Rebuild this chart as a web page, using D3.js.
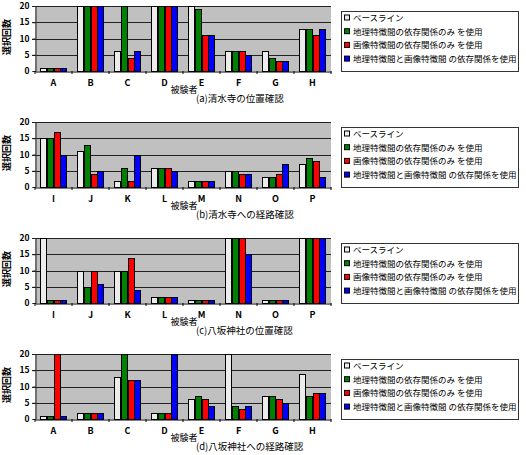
<!DOCTYPE html>
<html><head><meta charset="utf-8">
<script src="https://cdn.jsdelivr.net/npm/d3@7/dist/d3.min.js"></script>
<style>
body{margin:0;background:#fff;}
text{font-family:"Noto Sans CJK JP","DejaVu Sans",sans-serif;}
</style></head>
<body><svg id="c" width="526" height="455"></svg>
<script>
const seriesNames = ["ベースライン","地理特徴間の依存関係のみ を使用","画像特徴間の依存関係のみ を使用","地理特徴間と画像特徴間 の依存関係を使用"];
const seriesColors = ["#ececec","#008000","#ff0000","#0000ff"];
const yTicks = [0,5,10,15,20];

const catsA = ["A","B","C","D","E","F","G","H"];
const catsB = ["I","J","K","L","M","N","O","P"];
const catsC = ["I","J","K","L","M","N","O","P"];
const catsD = ["A","B","C","D","E","F","G","H"];

// values per category: [baseline, geo, image, both]
const valsA = [[1,1,1,1],[20,20,20,20],[6,20,4,6],[20,20,20,20],[20,19,11,11],[6,6,6,5],[6,4,3,3],[13,13,11,13]];
const valsB = [[15,15,17,10],[11,13,4,5],[2,6,2,10],[6,6,6,5],[2,2,2,2],[5,5,4,4],[3,3,4,7],[7,9,8,3]];
const valsC = [[20,1,1,1],[10,5,10,6],[10,10,14,4],[2,2,2,2],[1,1,1,1],[20,20,20,15],[1,1,1,1],[20,20,20,20]];
const valsD = [[1,1,20,1],[2,2,2,2],[13,20,12,12],[2,2,2,20],[6,7,6,4],[20,4,3,4],[7,7,6,5],[14,7,8,8]];

const captions = ["(a)清水寺の位置確認","(b)清水寺への経路確認","(c)八坂神社の位置確認","(d)八坂神社への経路確認"];
const xTitle = "被験者";
const yTitle = "選択回数";

const panels = [[catsA,valsA],[catsB,valsB],[catsC,valsC],[catsD,valsD]];
const svg = d3.select("#c");
const L = 35, R = 331, H = 65;

panels.forEach(([cats, vals], pi) => {
  const T = 6 + pi*116;
  const g = svg.append("g");
  const x0 = d3.scaleBand().domain(cats).range([L,R]).paddingInner(0.27).paddingOuter(0.135);
  const x1 = d3.scaleBand().domain(d3.range(4)).range([0,x0.bandwidth()]);
  const y = d3.scaleLinear().domain([0,20]).range([T+H,T]);

  g.append("rect").attr("x",L).attr("y",T).attr("width",R-L).attr("height",H).attr("fill","#c0c0c0");
  // gridlines
  g.selectAll("line.grid").data(yTicks.filter(d=>d>0)).enter().append("line")
    .attr("x1",L-3).attr("x2",R).attr("y1",d=>Math.round(y(d))+0.5).attr("y2",d=>Math.round(y(d))+0.5)
    .attr("stroke","#222").attr("stroke-width",1);
  // bars
  cats.forEach((c,ci)=>{
    vals[ci].forEach((v,si)=>{
      g.append("rect")
        .attr("x",Math.round(x0(c)+x1(si))+0.5)
        .attr("y",Math.round(y(v))+0.5)
        .attr("width",Math.round(x1.bandwidth())-1)
        .attr("height",Math.round(y(0))-Math.round(y(v)))
        .attr("fill",seriesColors[si]).attr("stroke","#000").attr("stroke-width",1);
    });
  });
  // axes
  const yAxis = d3.axisLeft(y).tickValues(yTicks).tickSize(3).tickPadding(3);
  const ya = g.append("g").attr("transform",`translate(${L+0.5},0)`).call(yAxis);
  ya.select(".domain").attr("stroke","#222");
  ya.selectAll("line").attr("stroke","#222");
  ya.selectAll("text").attr("font-size",8.5).attr("fill","#000").attr("font-weight","bold");
  const xAxis = d3.axisBottom(x0).tickSize(0).tickPadding(8);
  const xa = g.append("g").attr("transform",`translate(0,${Math.round(y(0))+0.5})`).call(xAxis);
  xa.select(".domain").attr("stroke","#000").attr("stroke-width",1.2);
  xa.selectAll("text").attr("font-size",9).attr("fill","#000").attr("font-weight","bold");
  // slot boundary ticks
  g.selectAll("line.st").data(d3.range(cats.length+1)).enter().append("line")
    .attr("x1",d=>L+d*x0.step()).attr("x2",d=>L+d*x0.step())
    .attr("y1",T+H).attr("y2",T+H+3).attr("stroke","#000");

  g.append("text").attr("x",184).attr("y",T+87).attr("text-anchor","middle").attr("font-size",9).text(xTitle);
  g.append("text").attr("x",196).attr("y",T+96).attr("font-size",9.5).text(captions[pi]);
  g.append("text").attr("transform",`translate(10,${T+31}) rotate(-90)`).attr("text-anchor","middle")
    .attr("font-size",9).attr("font-weight","bold").text(yTitle);

  // legend
  const lg = g.append("g");
  lg.append("rect").attr("x",341.5).attr("y",T+5.5).attr("width",177).attr("height",60)
    .attr("fill","#fff").attr("stroke","#333");
  seriesNames.forEach((s,si)=>{
    const cy = T+12+si*13.7;
    lg.append("rect").attr("x",344.5).attr("y",cy-3).attr("width",5).attr("height",5)
      .attr("fill",seriesColors[si]).attr("stroke","#000");
    lg.append("text").attr("x",353).attr("y",cy+3).attr("font-size",8.5).text(s);
  });
});
</script></body></html>
